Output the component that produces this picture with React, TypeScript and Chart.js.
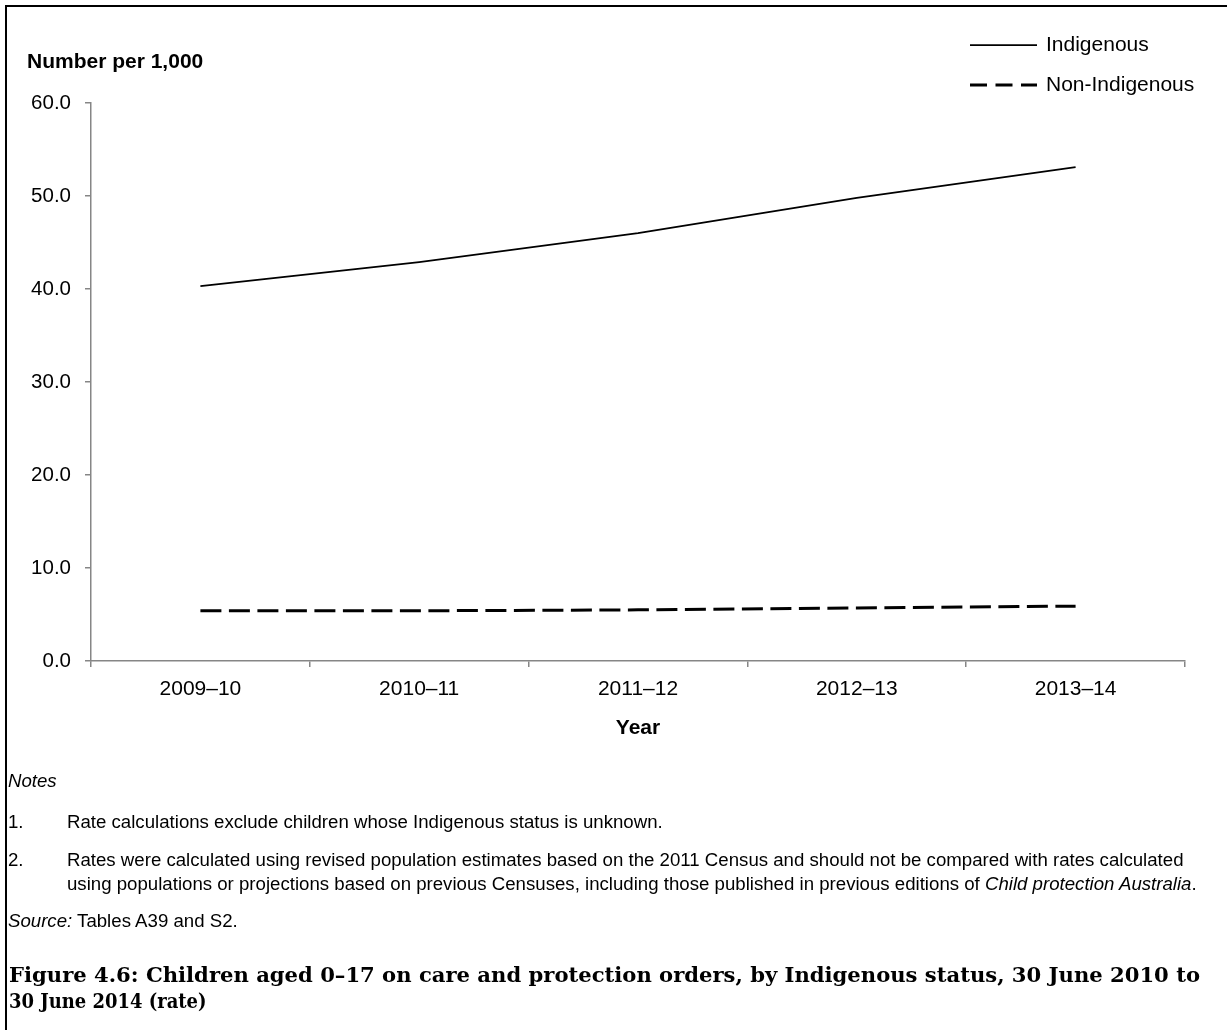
import React, { useEffect, useLayoutEffect, useRef } from "react";
import { Chart, registerables } from "chart.js";

Chart.register(...registerables);

// ---- Data ----
const years = ["2009–10", "2010–11", "2011–12", "2012–13", "2013–14"];
const indigenous = [40.3, 42.9, 46.0, 49.8, 53.1];
const nonIndigenous = [5.4, 5.4, 5.5, 5.7, 5.9];
const seriesNames = ["Indigenous", "Non-Indigenous"];
const yMin = 0;
const yMax = 60;
const yStep = 10;
const yAxisTitle = "Number per 1,000";
const xAxisTitle = "Year";
const notesHeading = "Notes";
const note1 = "Rate calculations exclude children whose Indigenous status is unknown.";
const note2a =
  "Rates were calculated using revised population estimates based on the 2011 Census and should not be compared with rates calculated";
const note2b = "using populations or projections based on previous Censuses, including those published in previous editions of ";
const note2bItalic = "Child protection Australia";
const sourceLabel = "Source:";
const sourceText = " Tables A39 and S2.";
const titleLine1 =
  "Figure 4.6: Children aged 0–17 on care and protection orders, by Indigenous status, 30 June 2010 to";
const titleLine2 = "30 June 2014 (rate)";

const SANS = "'Liberation Sans', Arial, Helvetica, sans-serif";
const TITLE_SERIF = "'DejaVu Serif Condensed', 'DejaVu Serif', serif";

const overlayPlugin = {
  id: "overlay",
  afterDraw(chart: any) {
    const ctx = chart.ctx;
    ctx.save();
    ctx.fillStyle = "#000";
    ctx.textBaseline = "middle";
    ctx.textAlign = "left";
    ctx.font = `bold 21px ${SANS}`;
    ctx.fillText(yAxisTitle, 27, 62);
    chart.data.datasets.forEach((ds: any, i: number) => {
      const y = 45 + i * 40;
      ctx.beginPath();
      ctx.setLineDash(ds.legendDash || []);
      ctx.lineWidth = ds.borderWidth;
      ctx.strokeStyle = ds.borderColor;
      ctx.lineCap = "butt";
      ctx.moveTo(970, y);
      ctx.lineTo(1037, y);
      ctx.stroke();
      ctx.setLineDash([]);
      ctx.font = `21px ${SANS}`;
      ctx.fillStyle = "#000";
      ctx.fillText(ds.label, 1046, y);
    });
    ctx.restore();
  },
};

function ChartCanvas() {
  const ref = useRef<HTMLCanvasElement | null>(null);
  useEffect(() => {
    if (!ref.current) return;
    const chart = new Chart(ref.current, {
      type: "line",
      data: {
        labels: years,
        datasets: [
          {
            label: seriesNames[0],
            data: indigenous,
            borderColor: "#000",
            borderWidth: 1.75,
            pointRadius: 0,
            tension: 0,
            fill: false,
          } as any,
          {
            label: seriesNames[1],
            data: nonIndigenous,
            borderColor: "#000",
            borderWidth: 3,
            borderDash: [21, 7.5],
            legendDash: [17, 8.5],
            borderCapStyle: "butt",
            pointRadius: 0,
            tension: 0,
            fill: false,
          } as any,
        ],
      },
      options: {
        animation: false,
        responsive: false,
        maintainAspectRatio: false,
        devicePixelRatio: 1,
        layout: { padding: { top: 103, right: 42, left: 0, bottom: 0 } },
        plugins: {
          legend: { display: false },
          tooltip: { enabled: false },
          title: { display: false },
        },
        scales: {
          x: {
            type: "category",
            offset: true,
            grid: {
              offset: true,
              drawOnChartArea: false,
              drawTicks: true,
              tickLength: 6,
              color: "#868686",
              lineWidth: 1.5,
            },
            border: { display: true, color: "#868686", width: 1.5 },
            ticks: {
              color: "#000",
              font: { family: SANS, size: 21 },
              padding: 10,
              maxRotation: 0,
              autoSkip: false,
            },
            title: {
              display: true,
              text: xAxisTitle,
              color: "#000",
              font: { family: SANS, size: 21, weight: "bold" },
              padding: { top: 0, bottom: 9 },
            },
            afterFit(scale: any) {
              scale.height = 89;
            },
          },
          y: {
            min: yMin,
            max: yMax,
            grid: {
              drawOnChartArea: false,
              drawTicks: true,
              tickLength: 6,
              color: "#868686",
              lineWidth: 1.5,
            },
            border: { display: true, color: "#868686", width: 1.5 },
            ticks: {
              stepSize: yStep,
              color: "#000",
              font: { family: SANS, size: 20.5 },
              padding: 14,
              callback: (v: any) => Number(v).toFixed(1),
            },
            afterFit(scale: any) {
              scale.width = 91;
            },
          },
        },
      },
      plugins: [overlayPlugin],
    });
    return () => chart.destroy();
  }, []);
  return (
    <canvas
      ref={ref}
      width={1227}
      height={750}
      style={{ position: "absolute", left: 0, top: 0, width: 1227, height: 750 }}
    />
  );
}

const titleLineStyle: React.CSSProperties = {
  position: "absolute",
  left: 9,
  fontFamily: TITLE_SERIF,
  fontStretch: "condensed",
  fontWeight: "bold",
  fontSize: 19.5,
  lineHeight: "26px",
  whiteSpace: "nowrap",
  color: "#000",
  transformOrigin: "left center",
};

function FigureTitle({ target, secondLineFactor }: { target: number; secondLineFactor: number }) {
  const r1 = useRef<HTMLDivElement | null>(null);
  const r2 = useRef<HTMLDivElement | null>(null);
  useLayoutEffect(() => {
    const a = r1.current;
    const b = r2.current;
    if (!a || !b) return;
    a.style.transform = "none";
    b.style.transform = "none";
    const w = a.getBoundingClientRect().width;
    if (w > 0) {
      const s = target / w;
      a.style.transform = `scaleX(${s})`;
      b.style.transform = `scaleX(${s * secondLineFactor})`;
    }
  }, [target, secondLineFactor]);
  return (
    <>
      <div ref={r1} style={{ ...titleLineStyle, top: 976 - 13 }}>
        {titleLine1}
      </div>
      <div ref={r2} style={{ ...titleLineStyle, top: 1002 - 13 }}>
        {titleLine2}
      </div>
    </>
  );
}

const noteFont: React.CSSProperties = {
  position: "absolute",
  fontFamily: SANS,
  fontSize: 17.5,
  lineHeight: "20px",
  whiteSpace: "nowrap",
  color: "#000",
  transform: "scaleX(1.065)",
  transformOrigin: "left center",
};

export default function App() {
  return (
    <div
      style={{
        position: "absolute",
        left: 0,
        top: 0,
        width: 1227,
        height: 1030,
        overflow: "hidden",
        background: "#fff",
      }}
    >
      <ChartCanvas />
      <div
        style={{
          position: "absolute",
          left: 5,
          top: 5,
          width: 1240,
          height: 1040,
          borderTop: "2px solid #000",
          borderLeft: "2px solid #000",
          pointerEvents: "none",
        }}
      />
      <div style={{ ...noteFont, left: 8, top: 781 - 10, fontStyle: "italic" }}>{notesHeading}</div>
      <div style={{ ...noteFont, left: 8, top: 822 - 10 }}>1.</div>
      <div style={{ ...noteFont, left: 67, top: 822 - 10 }}>{note1}</div>
      <div style={{ ...noteFont, left: 8, top: 860 - 10 }}>2.</div>
      <div style={{ ...noteFont, left: 67, top: 860 - 10 }}>{note2a}</div>
      <div style={{ ...noteFont, left: 67, top: 884 - 10 }}>
        {note2b}
        <i>{note2bItalic}</i>.
      </div>
      <div style={{ ...noteFont, left: 8, top: 921 - 10 }}>
        <i>{sourceLabel}</i>
        {sourceText}
      </div>
      <FigureTitle target={1191} secondLineFactor={0.85} />
    </div>
  );
}
